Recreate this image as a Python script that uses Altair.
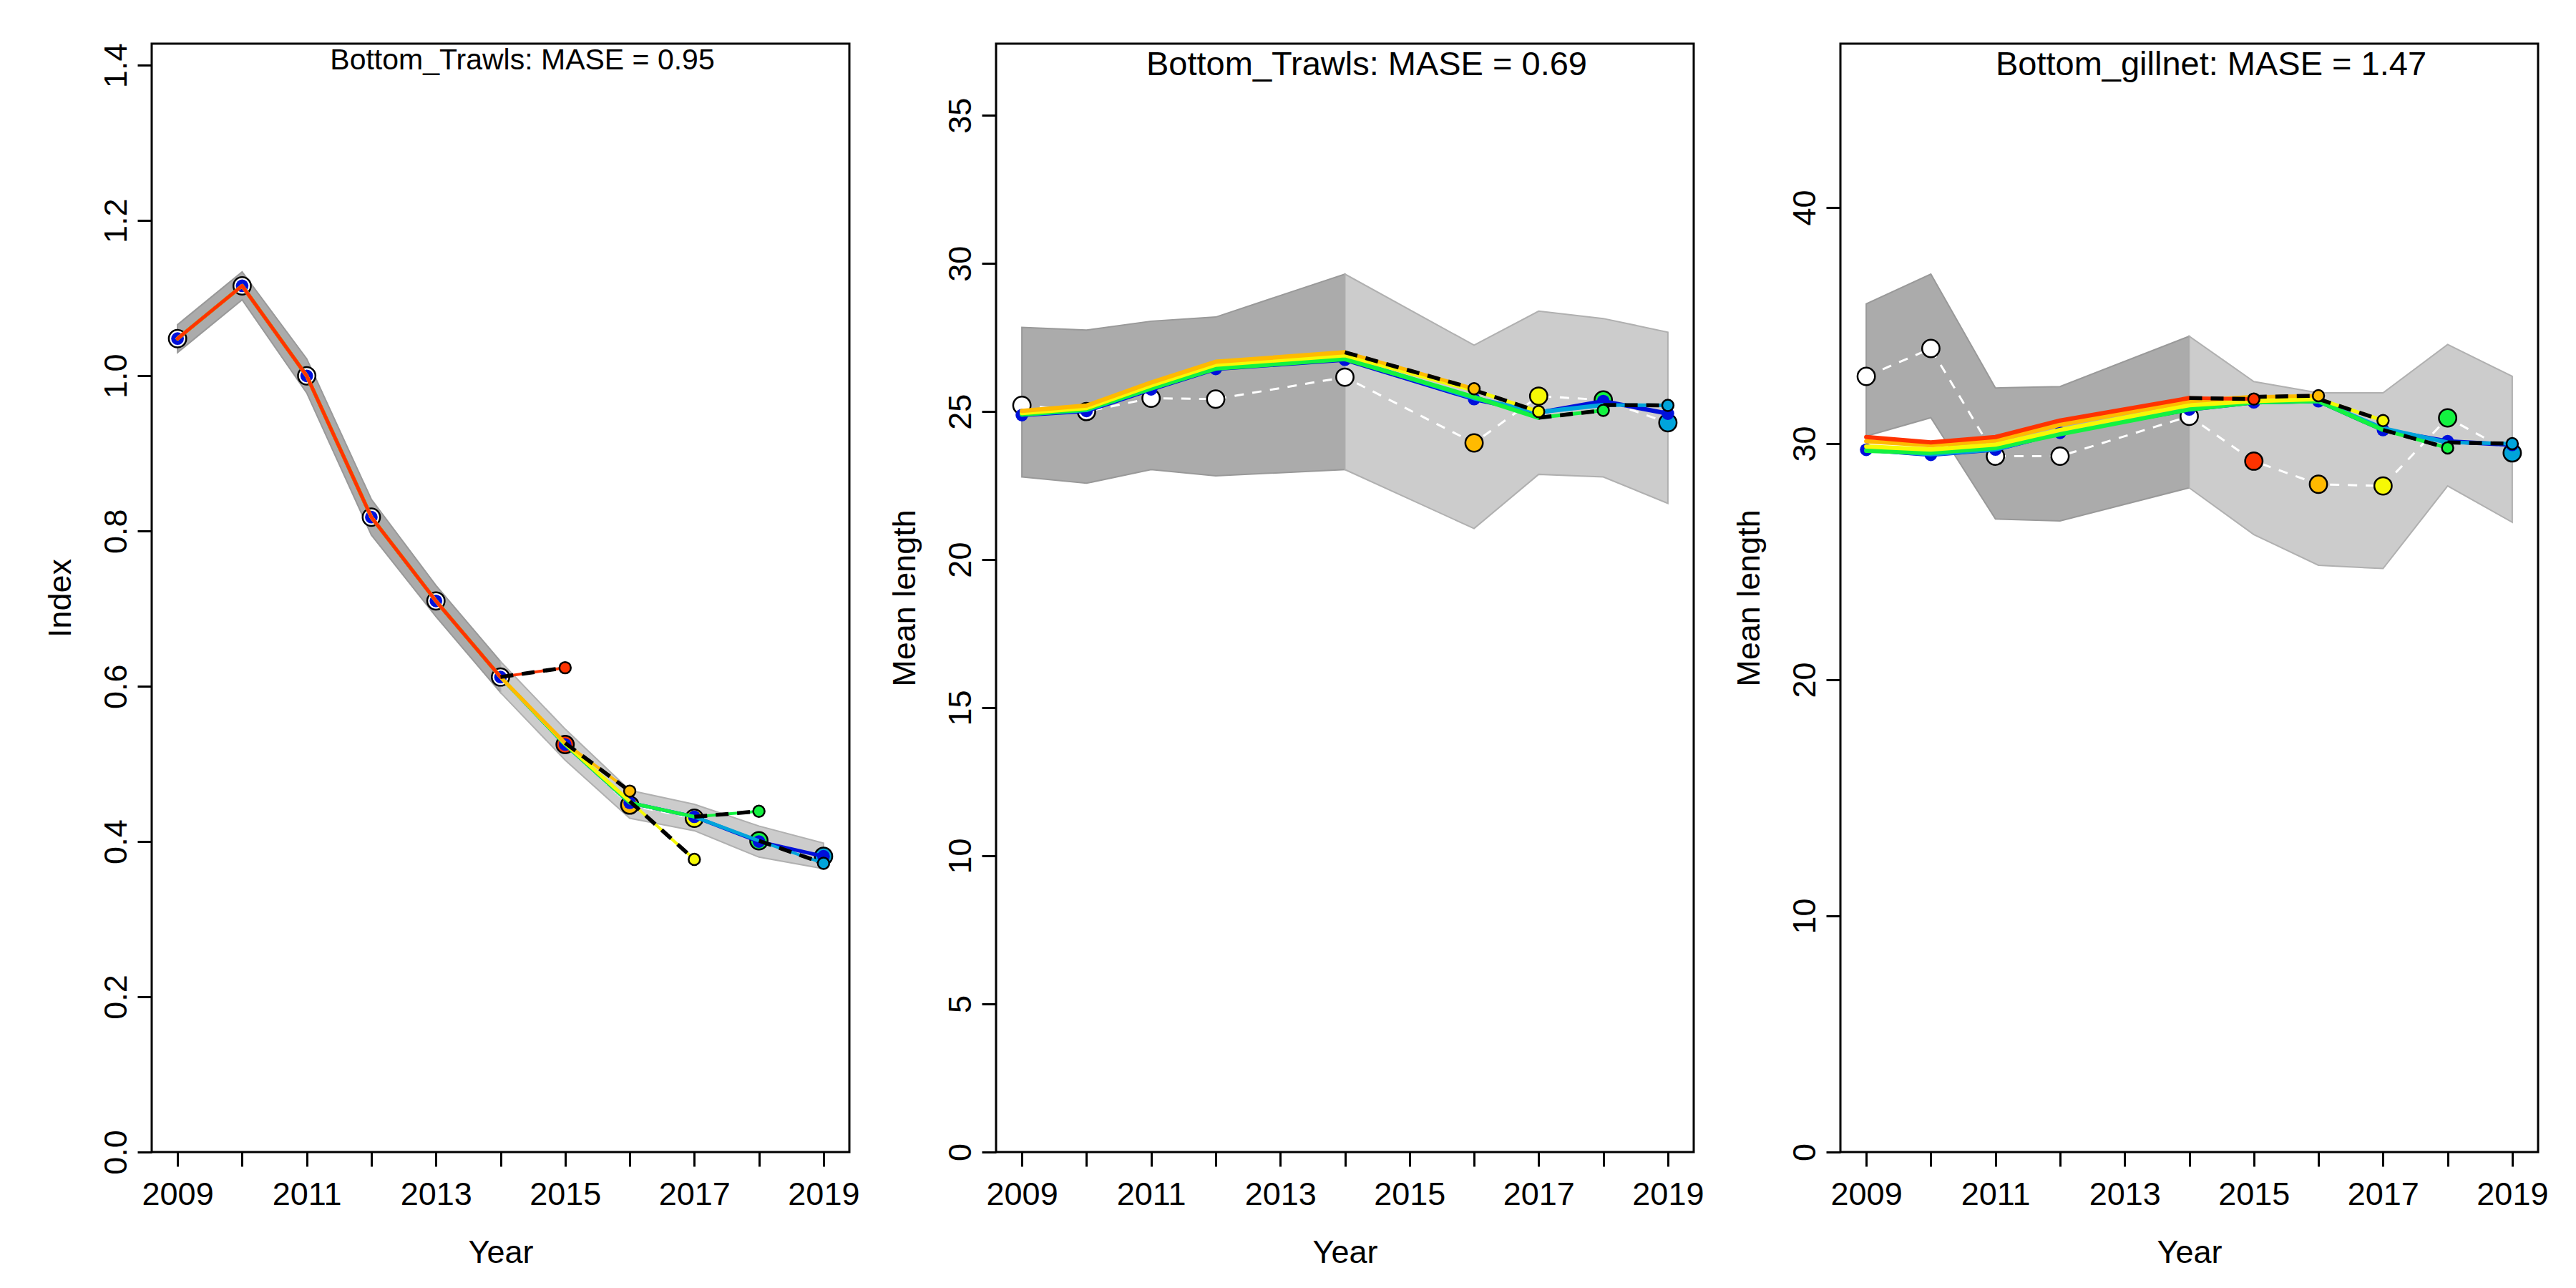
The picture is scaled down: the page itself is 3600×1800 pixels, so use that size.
import altair as alt
import pandas as pd

FONT = "Liberation Sans"
YEARS = list(range(2009, 2020))
RUNS = ["obs", "end2014", "end2015", "end2016", "end2017", "end2018", "ref"]
RUN_COLORS = ["#FFFFFF", "#FF3300", "#FFBA00", "#F6F905", "#13F240", "#00A4DB", "#0010DB"]
DRAW_ORDER = ["ref", "end2018", "end2017", "end2016", "end2015", "end2014"]

# ---------------- Panel 1: index ----------------
P1_TITLE = "Bottom_Trawls: MASE = 0.95"
P1_YEARS = YEARS
P1_OBS = [1.048, 1.116, 1.000, 0.818, 0.710, 0.612, 0.525, 0.447, 0.430, 0.401, 0.381]
P1_LO = [1.030, 1.098, 0.978, 0.795, 0.690, 0.592, 0.505, 0.430, 0.414, 0.380, 0.365]
P1_HI = [1.066, 1.134, 1.022, 0.841, 0.730, 0.632, 0.545, 0.466, 0.448, 0.420, 0.398]
P1_REF = [1.048, 1.116, 1.000, 0.818, 0.710, 0.612, 0.525, 0.450, 0.432, 0.400, 0.381]
P1_E2018 = [1.048, 1.116, 1.000, 0.818, 0.710, 0.612, 0.525, 0.450, 0.432, 0.401]
P1_E2017 = [1.048, 1.116, 1.000, 0.818, 0.710, 0.612, 0.525, 0.450, 0.432]
P1_E2016 = [1.048, 1.116, 1.000, 0.818, 0.710, 0.612, 0.526, 0.452]
P1_E2015 = [1.048, 1.116, 1.000, 0.818, 0.710, 0.612, 0.527]
P1_E2014 = [1.048, 1.116, 1.000, 0.818, 0.710, 0.612]
P1_FC = {"end2014": 0.624, "end2015": 0.465, "end2016": 0.377, "end2017": 0.439, "end2018": 0.372}

# ---------------- Panel 2: mean length, trawls ----------------
P2_TITLE = "Bottom_Trawls: MASE = 0.69"
P2_YEARS = [2009, 2010, 2011, 2012, 2014, 2016, 2017, 2018, 2019]
P2_OBS = [25.21, 25.00, 25.45, 25.42, 26.16, 23.94, 25.52, 25.39, 24.62]
P2_LO = [22.79, 22.58, 23.04, 22.83, 23.04, 21.05, 22.88, 22.79, 21.90]
P2_HI = [27.84, 27.75, 28.05, 28.19, 29.64, 27.24, 28.39, 28.14, 27.68]
P2_REF = [24.88, 25.02, 25.75, 26.44, 26.75, 25.42, 24.96, 25.35, 24.93]
P2_E2018 = [24.90, 25.05, 25.78, 26.47, 26.80, 25.45, 24.98, 25.22]
P2_E2017 = [24.90, 25.07, 25.78, 26.45, 26.77, 25.49, 24.79]
P2_E2016 = [24.95, 25.12, 25.88, 26.58, 26.90, 25.72]
P2_E2015 = [25.02, 25.20, 25.98, 26.68, 27.00]
P2_FC = {"end2015": 25.77, "end2016": 25.00, "end2017": 25.04, "end2018": 25.21}

# ---------------- Panel 3: mean length, gillnet ----------------
P3_TITLE = "Bottom_gillnet: MASE = 1.47"
P3_YEARS = [2009, 2010, 2011, 2012, 2014, 2015, 2016, 2017, 2018, 2019]
P3_OBS = [32.85, 34.03, 29.47, 29.47, 31.16, 29.26, 28.28, 28.21, 31.09, 29.61]
P3_LO = [30.32, 31.10, 26.81, 26.73, 28.13, 26.15, 24.85, 24.71, 28.21, 26.67]
P3_HI = [35.92, 37.18, 32.36, 32.42, 34.55, 32.63, 32.15, 32.15, 34.20, 32.85]
P3_REF = [29.74, 29.53, 29.75, 30.46, 31.45, 31.75, 31.80, 30.58, 30.10, 29.95]
P3_E2018 = [29.74, 29.55, 29.76, 30.47, 31.46, 31.76, 31.80, 30.65, 30.05]
P3_E2017 = [29.70, 29.61, 29.82, 30.40, 31.45, 31.75, 31.80, 30.58]
P3_E2016 = [29.88, 29.75, 29.96, 30.58, 31.63, 31.80, 31.89]
P3_E2015 = [30.10, 29.93, 30.14, 30.80, 31.80, 31.98]
P3_E2014 = [30.28, 30.05, 30.28, 30.98, 31.93]
P3_FC = {"end2014": 31.89, "end2015": 32.03, "end2016": 30.98, "end2017": 29.82, "end2018": 30.00}

W, H = 975, 1549
color_scale = alt.Scale(domain=RUNS, range=RUN_COLORS)


def make_panel(years, obs, lo, hi, fits, fcs, ydom, yvals, yfmt, ytitle, title, tsize, ty, lw):
    band = pd.DataFrame({"year": years, "lo": lo, "hi": hi})
    obs_df = pd.DataFrame({
        "year": years, "value": obs,
        "run": ["obs" if y <= 2014 else "end%d" % (y - 1) for y in years],
    })
    rows = []
    for run, vals in fits.items():
        for y, v in zip(years, vals):
            rows.append({"year": y, "value": v, "run": run})
    fit_df = pd.DataFrame(rows)
    seg_rows, pt_rows = [], []
    for run, fv in fcs.items():
        vals = fits[run]
        n = len(vals)
        seg_rows.append({"year": years[n - 1], "value": vals[-1], "run": run})
        seg_rows.append({"year": years[n], "value": fv, "run": run})
        pt_rows.append({"year": years[n], "value": fv, "run": run})
    seg_df = pd.DataFrame(seg_rows)
    pt_df = pd.DataFrame(pt_rows)
    ref_df = fit_df[fit_df.run == "ref"]

    xaxis = alt.Axis(
        values=YEARS, format="d",
        labelExpr="datum.value % 2 == 1 ? datum.label : ''",
        title="Year", grid=False, domain=False,
        tickSize=20, tickWidth=3, tickColor="black",
        labelFontSize=45, labelFont=FONT, labelColor="black",
        labelBaseline="alphabetic", labelPadding=53,
        labelOverlap=False, labelFlush=False,
        titleFontSize=45, titleFont=FONT, titleFontWeight="normal", titleColor="black",
        titleBaseline="alphabetic", titleX=W / 2, titleY=154, titleAlign="center",
    )
    yaxis = alt.Axis(
        values=yvals, format=yfmt, title=ytitle, grid=False, domain=False,
        tickSize=20, tickWidth=3, tickColor="black",
        labelFontSize=45, labelFont=FONT, labelColor="black",
        labelAngle=270, labelAlign="center", labelBaseline="alphabetic", labelPadding=16,
        labelOverlap=False, labelFlush=False,
        titleFontSize=45, titleFont=FONT, titleFontWeight="normal", titleColor="black",
        titleAngle=270, titleAlign="center", titleBaseline="alphabetic",
        titleX=-114, titleY=H / 2,
    )
    yscale = alt.Scale(domain=ydom, nice=False, zero=False)
    X = alt.X("year:Q", scale=alt.Scale(domain=[2008.6, 2019.4], nice=False, zero=False), axis=xaxis)
    Y = alt.Y("value:Q", scale=yscale, axis=yaxis)
    COL = alt.Color("run:N", scale=color_scale, legend=None)
    FILL = alt.Fill("run:N", scale=color_scale, legend=None)

    layers = []
    dark = alt.Chart(band[band.year <= 2014]).mark_area(
        fill="#ABABAB", stroke="#999999", strokeWidth=2, opacity=1
    ).encode(x=X, y=alt.Y("lo:Q", scale=yscale, axis=yaxis), y2="hi:Q")
    light = alt.Chart(band[band.year >= 2014]).mark_area(
        fill="#CCCCCC", stroke="#B0B0B0", strokeWidth=2, opacity=1
    ).encode(x=X, y=alt.Y("lo:Q", scale=yscale, axis=yaxis), y2="hi:Q")
    layers += [dark, light]
    layers.append(alt.Chart(obs_df).mark_line(color="white", strokeWidth=3, strokeDash=[13, 12]).encode(x=X, y=Y))
    layers.append(alt.Chart(obs_df).mark_circle(size=594, stroke="black", strokeWidth=2.5, opacity=1).encode(x=X, y=Y, fill=FILL))
    layers.append(alt.Chart(ref_df).mark_circle(size=314, opacity=1, color="#0010DB").encode(x=X, y=Y))
    for run in DRAW_ORDER:
        if run in fits:
            layers.append(alt.Chart(fit_df[fit_df.run == run]).mark_line(
                strokeWidth=lw, strokeCap="round", strokeJoin="round").encode(x=X, y=Y, color=COL))
    layers.append(alt.Chart(seg_df).mark_line(strokeWidth=lw - 1, strokeCap="round").encode(
        x=X, y=Y, color=COL, detail="run:N"))
    layers.append(alt.Chart(seg_df).mark_line(strokeWidth=5.5, strokeDash=[18, 12], color="black").encode(
        x=X, y=Y, detail="run:N"))
    layers.append(alt.Chart(pt_df).mark_circle(size=254, stroke="black", strokeWidth=2.5, opacity=1).encode(
        x=X, y=Y, fill=FILL))
    layers.append(alt.Chart(pd.DataFrame({"t": [title]})).mark_text(
        font=FONT, fontSize=tsize, color="black", align="center", baseline="alphabetic"
    ).encode(text="t:N", x=alt.value(518), y=alt.value(ty)))
    return alt.layer(*layers).properties(width=W, height=H)


p1 = make_panel(P1_YEARS, P1_OBS, P1_LO, P1_HI,
                {"ref": P1_REF, "end2018": P1_E2018, "end2017": P1_E2017, "end2016": P1_E2016,
                 "end2015": P1_E2015, "end2014": P1_E2014},
                P1_FC, [0, 1.428], [0, 0.2, 0.4, 0.6, 0.8, 1.0, 1.2, 1.4], ".1f", "Index",
                P1_TITLE, 41, 36, 5)
p2 = make_panel(P2_YEARS, P2_OBS, P2_LO, P2_HI,
                {"ref": P2_REF, "end2018": P2_E2018, "end2017": P2_E2017, "end2016": P2_E2016,
                 "end2015": P2_E2015},
                P2_FC, [0, 37.42], [0, 5, 10, 15, 20, 25, 30, 35], "d", "Mean length",
                P2_TITLE, 47, 44, 6)
p3 = make_panel(P3_YEARS, P3_OBS, P3_LO, P3_HI,
                {"ref": P3_REF, "end2018": P3_E2018, "end2017": P3_E2017, "end2016": P3_E2016,
                 "end2015": P3_E2015, "end2014": P3_E2014},
                P3_FC, [0, 46.94], [0, 10, 20, 30, 40], "d", "Mean length",
                P3_TITLE, 47, 44, 6)

chart = alt.hconcat(p1, p2, p3, spacing=205, bounds="flush").properties(
    padding={"left": 52, "top": 50, "right": 5, "bottom": 5}
).configure(font=FONT, background="white").configure_view(stroke="black", strokeWidth=3)

chart.save("out.html", embed_options={"renderer": "svg", "actions": False})
